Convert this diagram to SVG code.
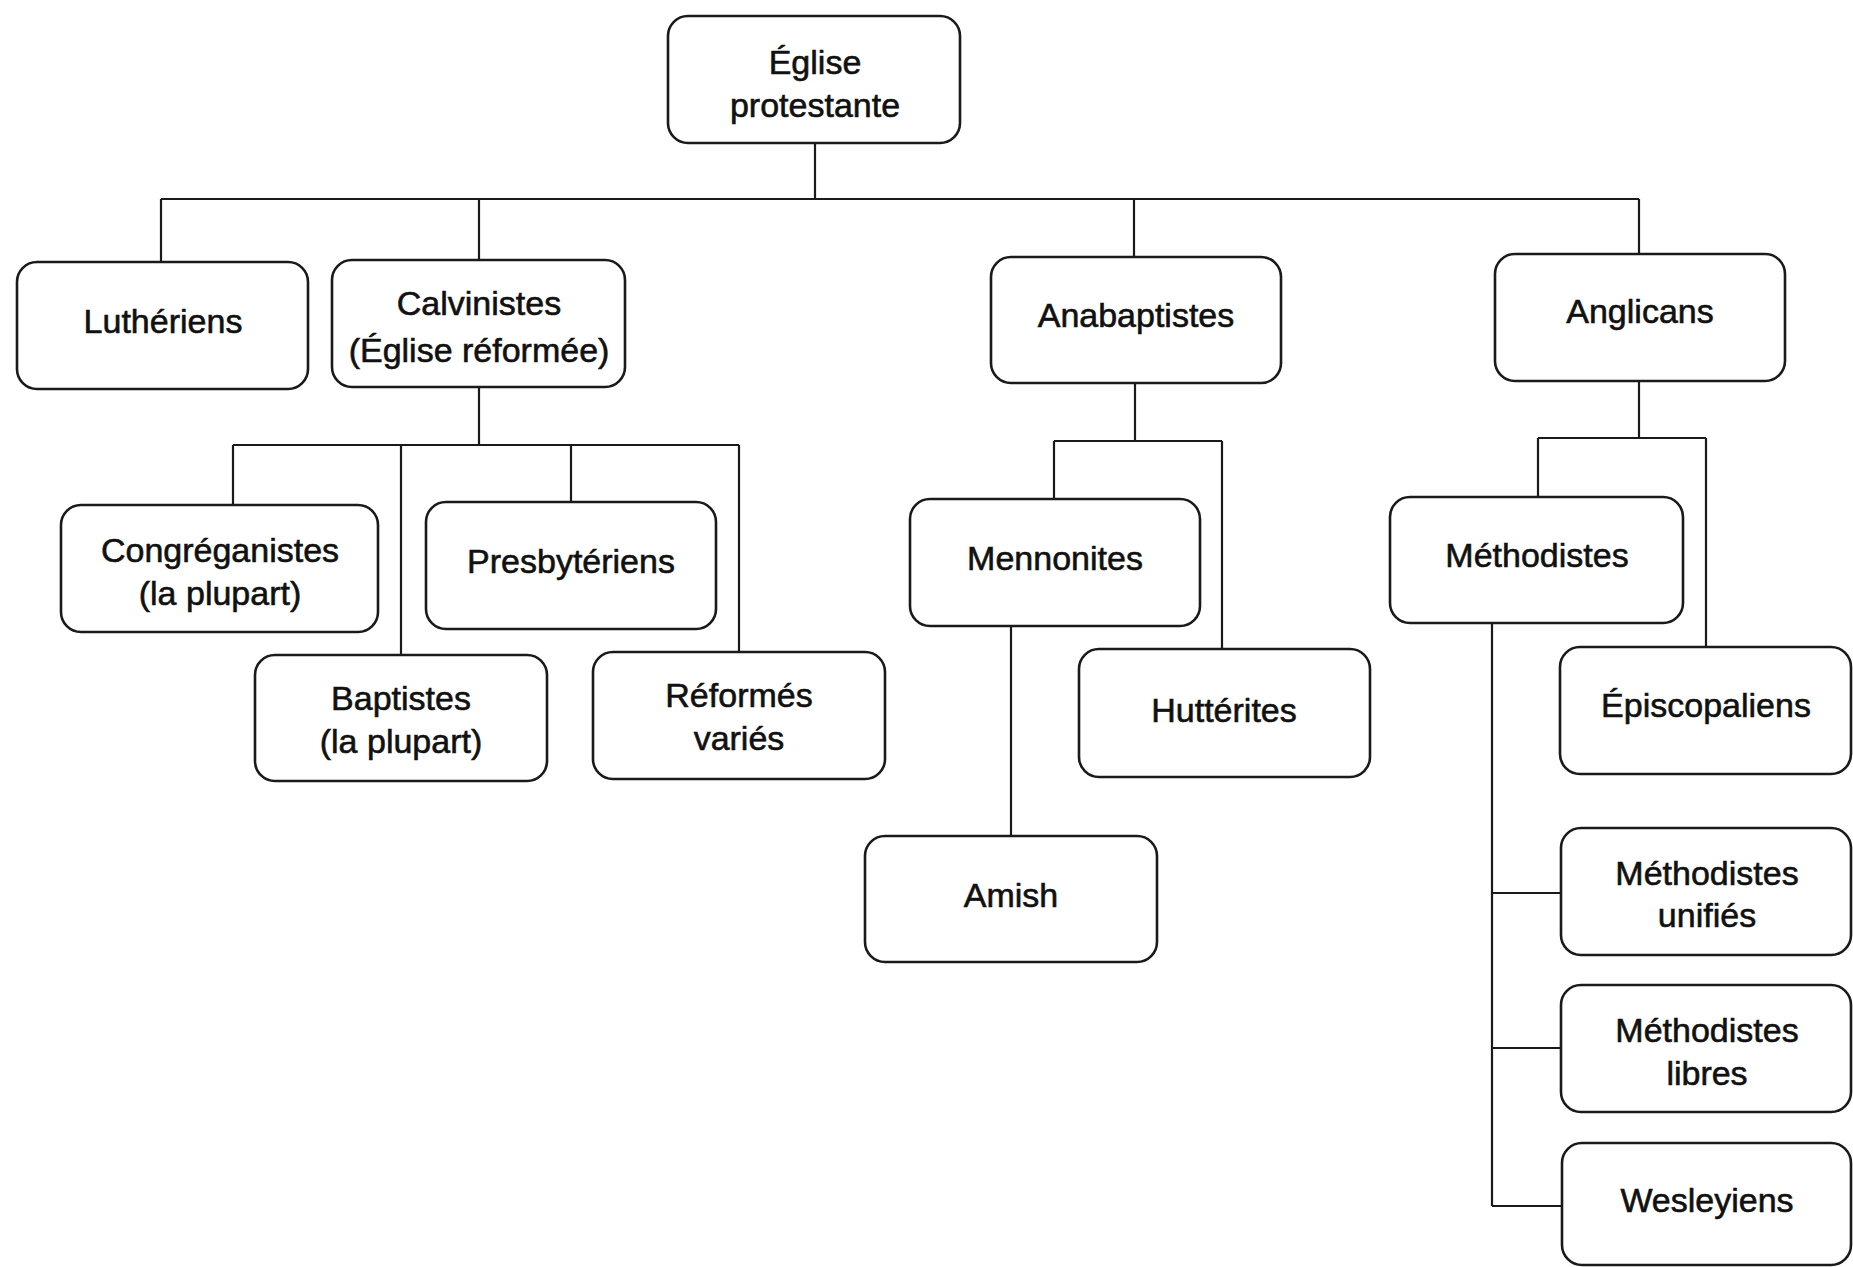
<svg xmlns="http://www.w3.org/2000/svg" width="1853" height="1267" viewBox="0 0 1853 1267">
<style>
.box{fill:#fff;stroke:#1a1a1a;stroke-width:2.6}
.lbl{font-family:"Liberation Sans",Arial,sans-serif;font-size:34px;fill:#111;stroke:#111;stroke-width:0.6;text-anchor:middle}
.con path{fill:none;stroke:#1a1a1a;stroke-width:2.2}
</style>
<rect width="1853" height="1267" fill="#fff"/>
<g id="connectors" class="con">
<path d="M815 143V199M161 199H1639M161 199V262M479 199V260M1134 199V257M1639 199V254"/>
<path d="M479 387V445M233 445H739M233 445V505M401 445V655M571 445V502M739 445V652"/>
<path d="M1135 383V441M1054 441H1222M1054 441V499M1222 441V649M1011 626V836"/>
<path d="M1639 381V438M1538 438H1706M1538 438V497M1706 438V647"/>
<path d="M1492 623V1206M1492 893H1561M1492 1048H1561M1492 1206H1562"/>
</g>
<g id="eglise"><rect class="box" x="668" y="16" width="292" height="127" rx="20"/><text class="lbl" x="815" y="74">Église</text><text class="lbl" x="815" y="117">protestante</text></g>
<g id="lutheriens"><rect class="box" x="17" y="262" width="291" height="127" rx="20"/><text class="lbl" x="163" y="333">Luthériens</text></g>
<g id="calvinistes"><rect class="box" x="332" y="260" width="293" height="127" rx="20"/><text class="lbl" x="479" y="315">Calvinistes</text><text class="lbl" x="479" y="362">(Église réformée)</text></g>
<g id="anabaptistes"><rect class="box" x="991" y="257" width="290" height="126" rx="20"/><text class="lbl" x="1136" y="327">Anabaptistes</text></g>
<g id="anglicans"><rect class="box" x="1495" y="254" width="290" height="127" rx="20"/><text class="lbl" x="1640" y="323">Anglicans</text></g>
<g id="congreganistes"><rect class="box" x="61" y="505" width="317" height="127" rx="20"/><text class="lbl" x="220" y="562">Congréganistes</text><text class="lbl" x="220" y="605">(la plupart)</text></g>
<g id="presbyteriens"><rect class="box" x="426" y="502" width="290" height="127" rx="20"/><text class="lbl" x="571" y="573">Presbytériens</text></g>
<g id="baptistes"><rect class="box" x="255" y="655" width="292" height="126" rx="20"/><text class="lbl" x="401" y="710">Baptistes</text><text class="lbl" x="401" y="753">(la plupart)</text></g>
<g id="reformes"><rect class="box" x="593" y="652" width="292" height="127" rx="20"/><text class="lbl" x="739" y="707">Réformés</text><text class="lbl" x="739" y="750">variés</text></g>
<g id="mennonites"><rect class="box" x="910" y="499" width="290" height="127" rx="20"/><text class="lbl" x="1055" y="570">Mennonites</text></g>
<g id="hutterites"><rect class="box" x="1079" y="649" width="291" height="128" rx="20"/><text class="lbl" x="1224" y="722">Huttérites</text></g>
<g id="amish"><rect class="box" x="865" y="836" width="292" height="126" rx="20"/><text class="lbl" x="1011" y="907">Amish</text></g>
<g id="methodistes"><rect class="box" x="1390" y="497" width="293" height="126" rx="20"/><text class="lbl" x="1537" y="567">Méthodistes</text></g>
<g id="episcopaliens"><rect class="box" x="1560" y="647" width="291" height="127" rx="20"/><text class="lbl" x="1706" y="717">Épiscopaliens</text></g>
<g id="methodistes-unifies"><rect class="box" x="1561" y="828" width="290" height="127" rx="20"/><text class="lbl" x="1707" y="885">Méthodistes</text><text class="lbl" x="1707" y="927">unifiés</text></g>
<g id="methodistes-libres"><rect class="box" x="1561" y="985" width="290" height="127" rx="20"/><text class="lbl" x="1707" y="1042">Méthodistes</text><text class="lbl" x="1707" y="1085">libres</text></g>
<g id="wesleyiens"><rect class="box" x="1562" y="1143" width="289" height="122" rx="20"/><text class="lbl" x="1707" y="1212">Wesleyiens</text></g>
</svg>
